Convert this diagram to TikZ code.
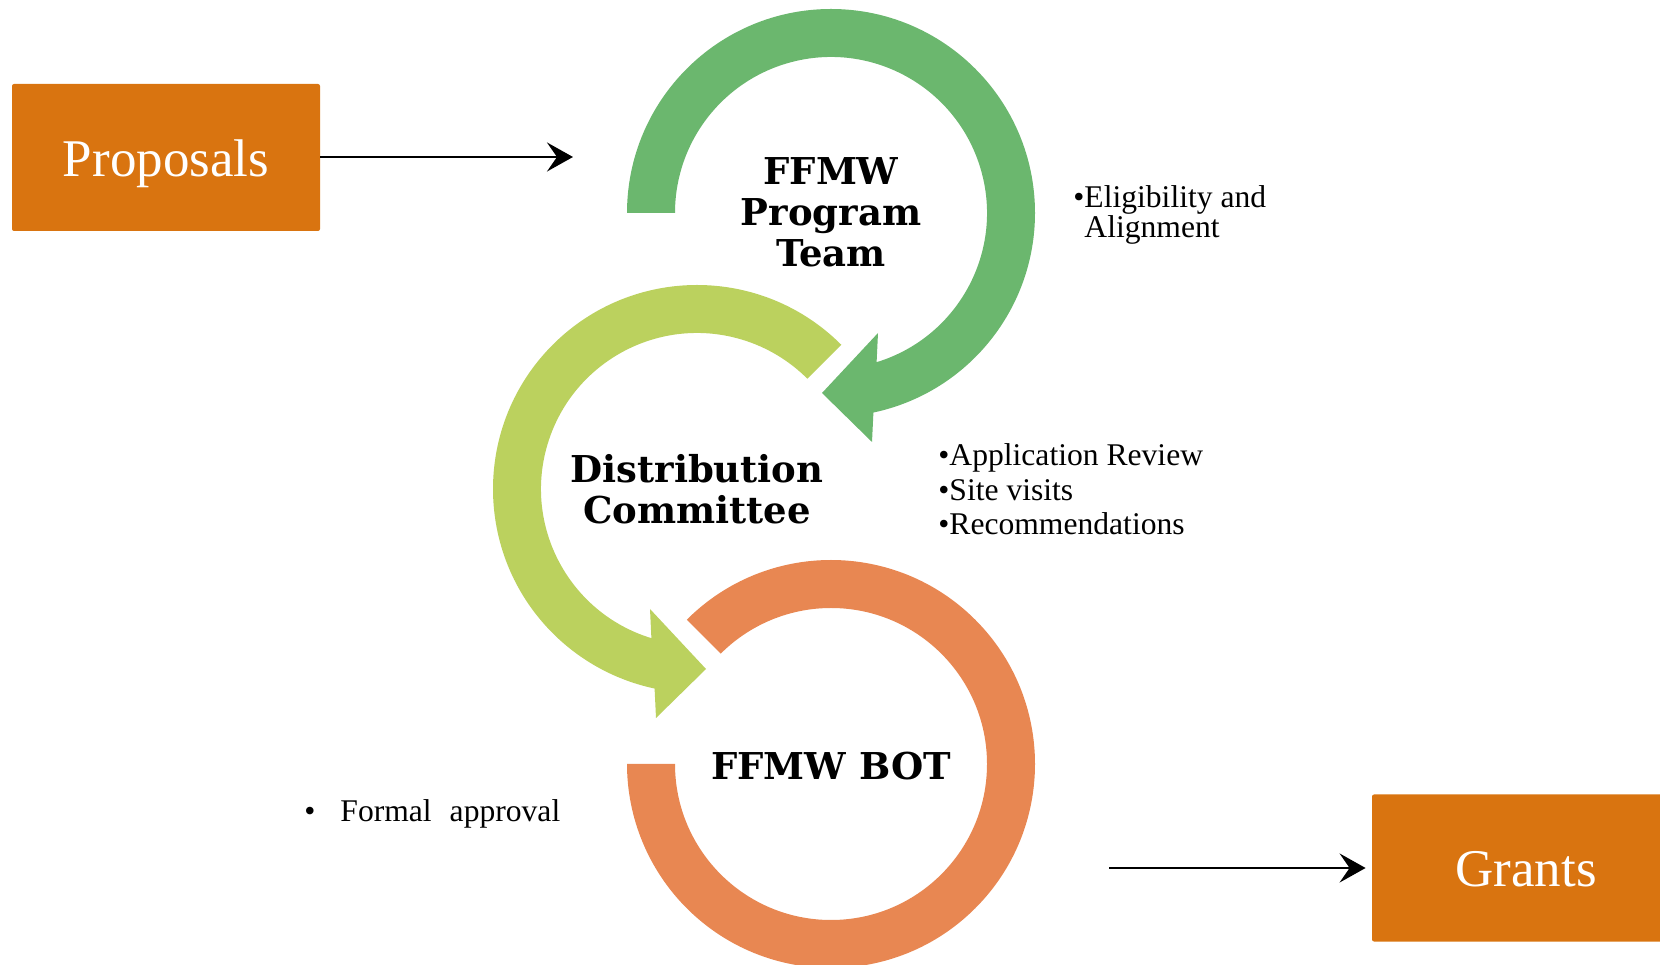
\documentclass[tikz,border=0pt]{standalone}
\usepackage{fontspec}
\setmainfont{Liberation Serif}
\newfontfamily\dvs{DejaVu Serif}
\usetikzlibrary{arrows.meta}
\definecolor{cgreen}{RGB}{107,183,110}
\definecolor{clgreen}{RGB}{187,209,94}
\definecolor{corange}{RGB}{232,135,82}
\definecolor{cbox}{RGB}{217,116,16}
\begin{document}
\begin{tikzpicture}[x=0.5pt,y=0.5pt,
  box/.style={fill=cbox,text=white,minimum width=154pt,minimum height=73.5pt,inner sep=0pt,rounded corners=1pt,text height=19pt,text depth=0pt,font=\fontsize{26.5}{30}\selectfont},
  conn/.style={line width=1.3pt,-{Stealth[length=13pt,width=14.5pt,inset=5pt]}},
  title/.style={font=\dvs\bfseries\fontsize{18.5}{20.5}\selectfont,align=center,inner sep=0pt},
  note/.style={font=\fontsize{15.8}{15}\selectfont,align=left,inner sep=0pt}]
\useasboundingbox (0,0) rectangle (1660,964);
% green circular arrow
\begin{scope}[shift={(831,751)}]
\fill[cgreen] (180:204) arc[start angle=180,end angle=-78,radius=204]
  -- (41,-229) -- (-9,-180) -- (47,-120) -- (-73:156)
  arc[start angle=-73,end angle=180,radius=156] -- cycle;
\end{scope}
% light green circular arrow
\begin{scope}[shift={(697,475)}]
\fill[clgreen] (45:204) arc[start angle=45,end angle=258,radius=204]
  -- (-41,-229) -- (9,-180) -- (-47,-120) -- (253:156)
  arc[start angle=253,end angle=45,radius=156] -- cycle;
\end{scope}
% orange ring
\begin{scope}[shift={(831,200)}]
\fill[corange] (135:204) arc[start angle=135,end angle=-180,radius=204]
  -- (-180:156) arc[start angle=-180,end angle=135,radius=156] -- cycle;
\end{scope}
% titles
\node[title] (team) at (831,751.5) {FFMW\\Program\\Team};
\node[title] (dist) at (697,474.5) {Distribution\\Committee};
\node[title,anchor=base] (bot) at (831,184) {FFMW BOT};
% notes (base anchor = baseline of last line)
\node[note,anchor=base west] (n1) at (1073,726) {\textbullet Eligibility and\\\phantom{\textbullet}Alignment};
\node[note,anchor=base west,font=\fontsize{15.8}{17.4}\selectfont] (n2) at (938,429) {\textbullet Application Review\\\textbullet Site visits\\\textbullet Recommendations};
\node[note,anchor=base west] (n3) at (304,142) {\textbullet\hspace{12.5pt}Formal\hspace{9pt}approval};
% boxes
\node[box] (prop) at (166,806.5) {Proposals};
\node[box] (grants) at (1526,96) {Grants};
\coordinate (pe) at (573,807);
\coordinate (gs) at (1109,96);
\draw[conn] (prop.east |- pe) -- (pe);
\draw[conn,shorten >=3pt] (gs) -- (grants.west);
\end{tikzpicture}
\end{document}
